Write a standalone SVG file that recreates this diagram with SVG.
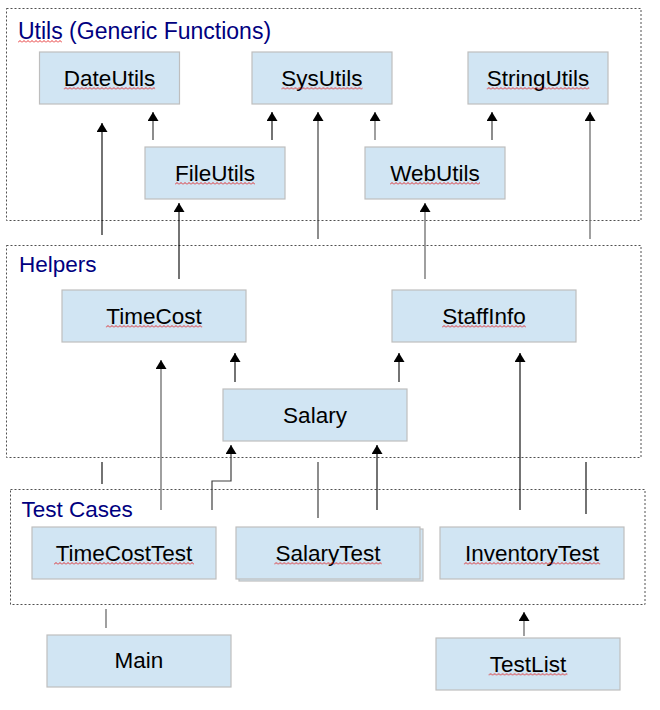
<svg xmlns="http://www.w3.org/2000/svg" width="660" height="710" viewBox="0 0 660 710">
<style>
.frame{fill:none;stroke:#505050;stroke-width:1;stroke-dasharray:2,2}
.title{font-family:"Liberation Sans",Arial,sans-serif;font-size:22.5px;fill:#000080}
.box{fill:#D1E5F3;stroke:#BEBEBE;stroke-width:1.2}
.lbl{font-family:"Liberation Sans",Arial,sans-serif;font-size:22.5px;fill:#000;text-anchor:middle}
.sq{fill:url(#sq)}
.dk{fill:none;stroke:#000;stroke-width:1.1}
.md{fill:none;stroke:#404040;stroke-width:1.2}
.gr{fill:none;stroke:#777;stroke-width:1.4}
.arr{marker-end:url(#ah)}
</style>
<defs>
<marker id="ah" viewBox="0 0 9 11" markerWidth="9" markerHeight="11" refX="9" refY="5.5" orient="auto" markerUnits="userSpaceOnUse">
<path d="M0,0 L9,5.5 L0,11 z" fill="#000"/>
</marker>
<pattern id="sq" width="4" height="3" patternUnits="userSpaceOnUse">
<path d="M0,2.5 L2,0.5 L4,2.5" fill="none" stroke="#E00000" stroke-width="0.8"/>
</pattern>
</defs>

<g id="frames">
<rect class="frame" x="6.5" y="8.5" width="634.5" height="212"/>
<text class="title" x="18" y="39" style="font-size:23px">Utils (Generic Functions)</text>
<rect class="sq" transform="translate(18,40)" width="44" height="3"/>
<rect class="frame" x="6.5" y="245.5" width="634.5" height="212"/>
<text class="title" x="19" y="272">Helpers</text>
<rect class="frame" x="10.5" y="489.5" width="634.5" height="115"/>
<text class="title" x="21.5" y="517">Test Cases</text>
</g>

<g id="connectors">
<path class="dk arr" d="M102,235 V123"/>
<path class="md arr" d="M153,140 V112"/>
<path class="dk arr" d="M272,140 V112"/>
<path class="dk arr" d="M179,279 V203"/>
<path class="md arr" d="M318,239 V112"/>
<path class="gr arr" d="M375,140 V112"/>
<path class="md arr" d="M492,140 V112"/>
<path class="gr arr" d="M425,279 V203"/>
<path class="gr arr" d="M590,239 V112"/>
<path class="gr arr" d="M161,510 V360"/>
<path class="dk arr" d="M235,382 V353"/>
<path class="dk arr" d="M399,382 V353"/>
<path class="dk arr" d="M520,510 V353"/>
<path class="md arr" d="M212,510 V481 H231 V445"/>
<path class="dk arr" d="M377,510 V445"/>
<path class="dk" d="M102,462 V484"/>
<path class="md" d="M318,462 V518"/>
<path class="dk" d="M586,462 V514"/>
<path class="gr" d="M106,609 V628"/>
<path class="gr arr" d="M524,636 V612"/>
</g>

<g id="DateUtils">
<rect class="box" x="39.5" y="52" width="140" height="52"/>
<text class="lbl" x="109.5" y="86">DateUtils</text>
<rect class="sq" transform="translate(63.8,87)" width="91.3" height="3"/>
</g>
<g id="SysUtils">
<rect class="box" x="252" y="52" width="140" height="52"/>
<text class="lbl" x="322" y="86">SysUtils</text>
<rect class="sq" transform="translate(281.4,87)" width="81.2" height="3"/>
</g>
<g id="StringUtils">
<rect class="box" x="468" y="52" width="140" height="52"/>
<text class="lbl" x="538" y="86">StringUtils</text>
<rect class="sq" transform="translate(486.8,87)" width="102.5" height="3"/>
</g>
<g id="FileUtils">
<rect class="box" x="145" y="147" width="140" height="52"/>
<text class="lbl" x="215" y="181">FileUtils</text>
<rect class="sq" transform="translate(175,182)" width="80" height="3"/>
</g>
<g id="WebUtils">
<rect class="box" x="365" y="147" width="140" height="52"/>
<text class="lbl" x="435" y="181">WebUtils</text>
<rect class="sq" transform="translate(390,182)" width="90" height="3"/>
</g>
<g id="TimeCost">
<rect class="box" x="62" y="290" width="184" height="52"/>
<text class="lbl" x="154" y="324">TimeCost</text>
<rect class="sq" transform="translate(105.9,325)" width="96.3" height="3"/>
</g>
<g id="StaffInfo">
<rect class="box" x="392" y="290" width="184" height="52"/>
<text class="lbl" x="484" y="324">StaffInfo</text>
<rect class="sq" transform="translate(442.1,325)" width="83.8" height="3"/>
</g>
<g id="Salary">
<rect class="box" x="223" y="389" width="184" height="52"/>
<text class="lbl" x="315" y="423">Salary</text>
</g>
<g id="TimeCostTest">
<rect class="box" x="32" y="527" width="184" height="52"/>
<text class="lbl" x="124" y="561">TimeCostTest</text>
<rect class="sq" transform="translate(54,562)" width="140" height="3"/>
</g>
<g id="SalaryTest">
<rect class="box" x="239" y="529" width="184" height="52"/>
<rect class="box" x="236" y="527" width="184" height="52"/>
<text class="lbl" x="328" y="561">SalaryTest</text>
<rect class="sq" transform="translate(274.3,562)" width="107.5" height="3"/>
</g>
<g id="InventoryTest">
<rect class="box" x="440" y="527" width="184" height="52"/>
<text class="lbl" x="532" y="561">InventoryTest</text>
<rect class="sq" transform="translate(463.9,562)" width="136.3" height="3"/>
</g>
<g id="Main">
<rect class="box" x="47" y="635" width="184" height="52"/>
<text class="lbl" x="139" y="668">Main</text>
</g>
<g id="TestList">
<rect class="box" x="436" y="638" width="184" height="52"/>
<text class="lbl" x="528" y="672">TestList</text>
<rect class="sq" transform="translate(488.6,673)" width="78.8" height="3"/>
</g>
</svg>
